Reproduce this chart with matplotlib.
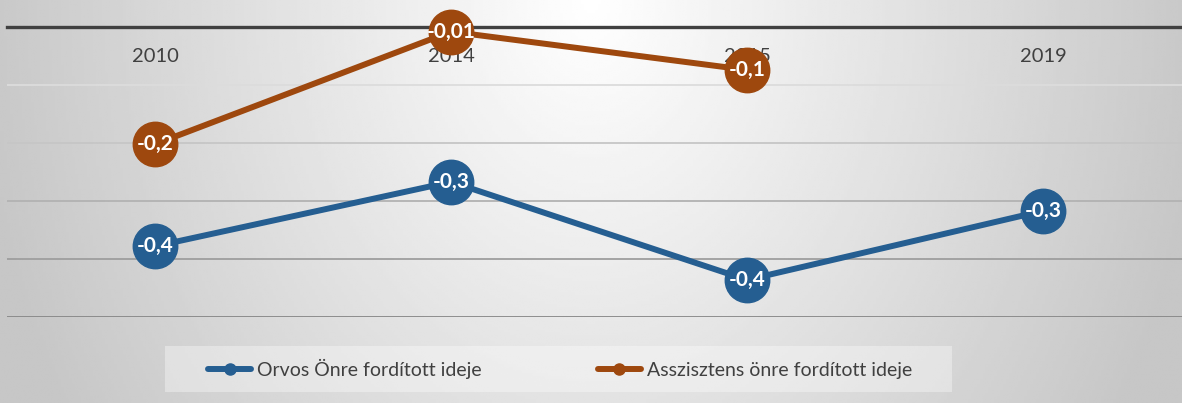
import numpy as np
import matplotlib
matplotlib.use("Agg")
import matplotlib.pyplot as plt
from matplotlib.lines import Line2D
from matplotlib.patches import Rectangle

# Data
years = ["2010", "2014", "2015", "2019"]
orvos = [-0.378, -0.267, -0.436, -0.317]
orvos_labels = ["-0,4", "-0,3", "-0,4", "-0,3"]
asszisztens = [-0.202, -0.008, -0.074, np.nan]
asszisztens_labels = ["-0,2", "-0,01", "-0,1", ""]
series_names = ["Orvos Önre fordított ideje", "Asszisztens önre fordított ideje"]

BLUE = "#255E91"
ORANGE = "#9E480E"
TEXT = "#404040"

plt.rcParams["font.family"] = ["Lato", "DejaVu Sans"]

W, H, DPI = 1182, 403, 100
fig = plt.figure(figsize=(W / DPI, H / DPI), dpi=DPI)

# radial grey gradient background, light at top centre
bg = fig.add_axes([0, 0, 1, 1], zorder=0)
xx, yy = np.meshgrid(np.linspace(0, 1, 400), np.linspace(0, 1, 140))
r = np.sqrt(((xx - 0.5) / 0.5) ** 2 + (yy / 1.9) ** 2)
shade = (255 - 54 * np.clip(r, 0, 1.05)) / 255.0
bg.imshow(shade, cmap="gray", vmin=0, vmax=1, aspect="auto",
          extent=[0, 1, 1, 0], interpolation="bilinear")
bg.set_xlim(0, 1)
bg.set_ylim(1, 0)
bg.axis("off")

ax = fig.add_axes([7 / W, 86 / H, 1184 / W, 290 / H], zorder=1)
ax.patch.set_alpha(0)

x = np.arange(len(years))
ax.plot(x, orvos, color=BLUE, lw=4.3, marker="o", ms=32, zorder=3, clip_on=False,
        solid_capstyle="round", solid_joinstyle="round")
ax.plot(x, asszisztens, color=ORANGE, lw=4.3, marker="o", ms=32, zorder=3, clip_on=False,
        solid_capstyle="round", solid_joinstyle="round")

for xi, yi, lab in zip(x, orvos, orvos_labels):
    ax.text(xi, yi, lab, color="white", fontsize=15, fontweight="bold",
            ha="center", va="center", zorder=5)
for xi, yi, lab in zip(x, asszisztens, asszisztens_labels):
    if lab:
        ax.text(xi, yi, lab, color="white", fontsize=15, fontweight="bold",
                ha="center", va="center", zorder=5)

ax.set_xlim(-0.5, 3.5)
ax.set_ylim(-0.5, 0)
ax.set_xticks(x)
ax.set_xticklabels(years)
ax.set_yticks([-0.1, -0.2, -0.3, -0.4, -0.5])
ax.tick_params(axis="x", top=False, bottom=False, labeltop=True, labelbottom=False,
               pad=-27.4, labelsize=14.5, labelcolor=TEXT, length=0)
ax.tick_params(axis="y", left=False, labelleft=False, length=0)

for s in ["left", "right", "bottom"]:
    ax.spines[s].set_visible(False)
ax.spines["top"].set_color(TEXT)
ax.spines["top"].set_linewidth(2.4)

# horizontal gridlines that get darker towards the bottom
ax.yaxis.grid(True)
grid_colors = ["#dcdcdc", "#c6c6c6", "#b2b2b2", "#9e9e9e", "#878787"]
for gl, c in zip(ax.get_ygridlines(), grid_colors):
    gl.set_color(c)
    gl.set_linewidth(1.3)
ax.set_axisbelow(True)

# legend with light box
fig.patches.append(Rectangle((165 / W, 11 / H), 787 / W, 46 / H,
                             transform=fig.transFigure, facecolor="white",
                             alpha=0.35, edgecolor="none", zorder=1))
handles = [Line2D([], [], color=BLUE, lw=4.3, marker="o", ms=8, solid_capstyle="round"),
           Line2D([], [], color=ORANGE, lw=4.3, marker="o", ms=8, solid_capstyle="round")]
leg = fig.legend(handles, series_names, loc="center", bbox_to_anchor=(560 / W, 34 / H),
                 ncol=2, frameon=False, fontsize=14, handlelength=2.2,
                 handletextpad=0.3, columnspacing=6.0, labelcolor=TEXT)
leg.set_zorder(5)

fig.savefig("out.png", dpi=DPI)
